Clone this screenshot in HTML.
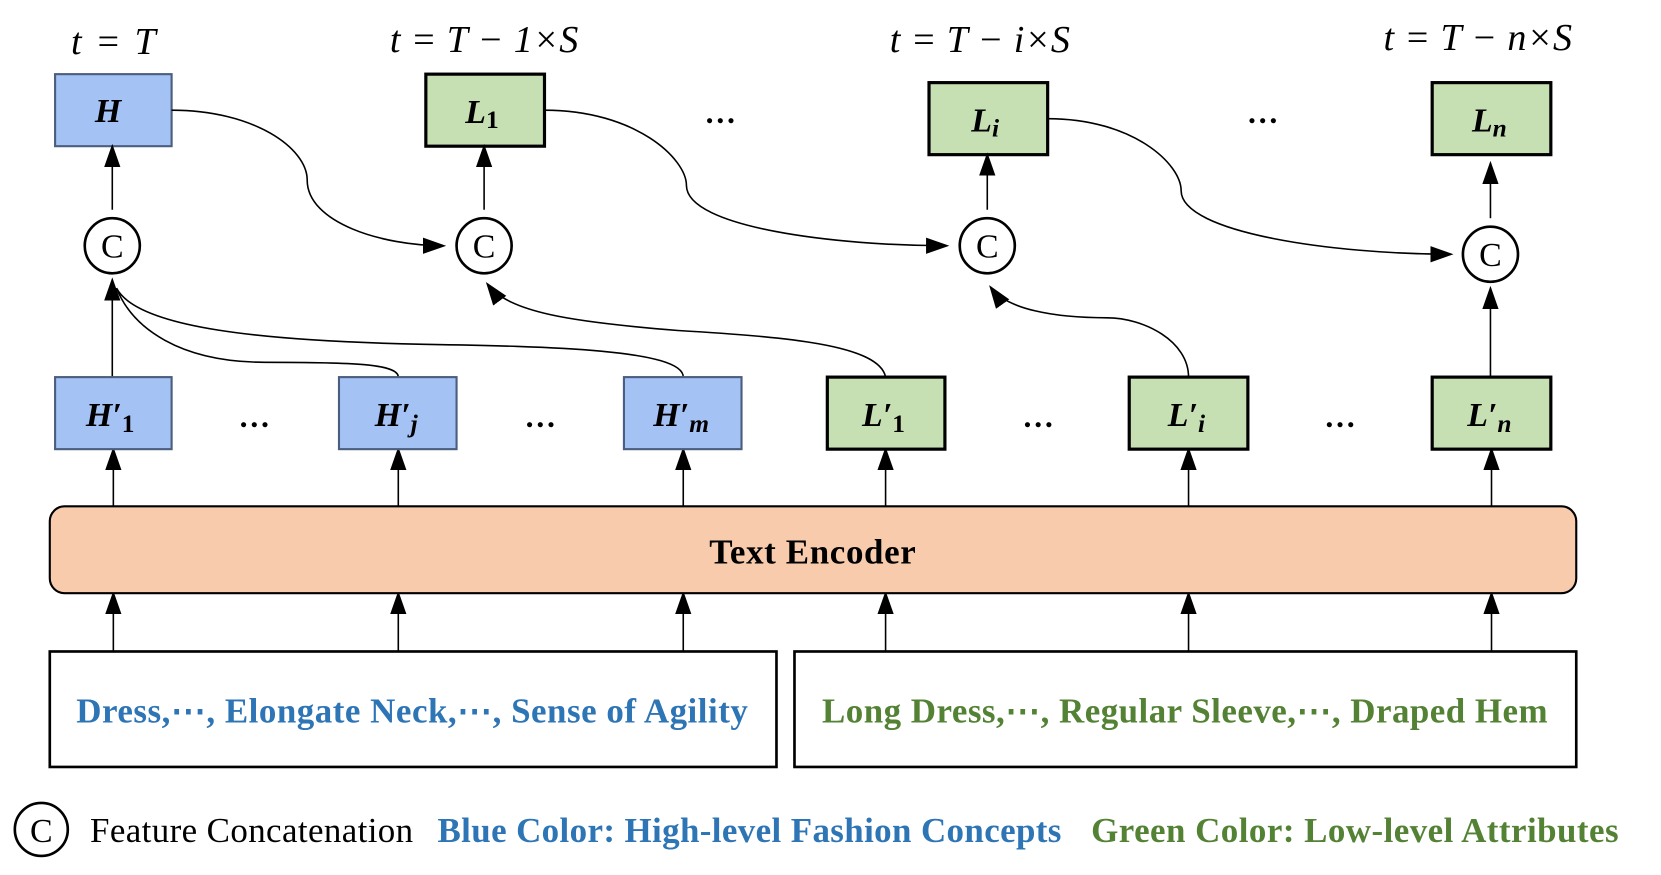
<!DOCTYPE html>
<html><head><meta charset="utf-8"><style>
html,body{margin:0;padding:0;background:#fff;}
svg{display:block;}
text{font-family:"Liberation Serif",serif;}
</style></head><body>
<svg width="1661" height="875" viewBox="0 0 1568 826" preserveAspectRatio="none" xmlns="http://www.w3.org/2000/svg">
<defs>
<marker id="b" viewBox="0 0 10 10" refX="9" refY="5" markerWidth="22" markerHeight="22" markerUnits="userSpaceOnUse" orient="auto"><path d="M0,1.5 L10,5 L0,8.5z" fill="#000"/></marker>
</defs>
<g font-style="italic" font-size="36" text-anchor="middle">
<text x="107" y="51" textLength="80">t = T</text>
<text x="457" y="49" textLength="178">t = T − 1×S</text>
<text x="925" y="49" textLength="170">t = T − i×S</text>
<text x="1395" y="47" textLength="178">t = T − n×S</text>
</g>
<rect x="52" y="70" width="110" height="68" fill="#a4c2f4" stroke="#4b5e80" stroke-width="2"/>
<rect x="402" y="70" width="112" height="68" fill="#c6e0b4" stroke="#000" stroke-width="3"/>
<rect x="877" y="78" width="112" height="68" fill="#c6e0b4" stroke="#000" stroke-width="3"/>
<rect x="1352" y="78" width="112" height="68" fill="#c6e0b4" stroke="#000" stroke-width="3"/>
<g font-style="italic" font-weight="bold" font-size="32" text-anchor="middle">
<text x="102" y="115">H</text>
<text x="455" y="116">L<tspan font-size="24" dy="5" font-style="normal">1</tspan></text>
<text x="930" y="124">L<tspan font-size="24" dy="5">i</tspan></text>
<text x="1406" y="124">L<tspan font-size="24" dy="5">n</tspan></text>
</g>
<g font-size="30" font-weight="bold" text-anchor="middle">
<text x="680" y="116">…</text><text x="1192" y="116">…</text>
<text x="240" y="403">…</text><text x="510" y="403">…</text>
<text x="980" y="403">…</text><text x="1265" y="403">…</text>
</g>
<g fill="#fff" stroke="#000" stroke-width="2.5">
<circle cx="106" cy="232" r="26"/><circle cx="457" cy="232" r="26"/>
<circle cx="932" cy="232" r="26"/><circle cx="1407" cy="240" r="26"/>
</g>
<g font-size="32" text-anchor="middle">
<text x="106" y="243">C</text><text x="457" y="243">C</text>
<text x="932" y="243">C</text><text x="1407" y="251">C</text>
</g>
<g stroke="#000" stroke-width="1.5" fill="none" marker-end="url(#b)">
<path d="M106,198 V138"/><path d="M457,198 V138"/><path d="M932,198 V146"/><path d="M1407,206 V154"/>
<path d="M106,356 V264"/><path d="M1407,356 V272"/>
<path d="M107,478 V424"/><path d="M376,478 V424"/><path d="M645,478 V424"/><path d="M836,478 V424"/><path d="M1122,478 V424"/><path d="M1408,478 V424"/>
<path d="M107,615 V560"/><path d="M376,615 V560"/><path d="M645,615 V560"/><path d="M836,615 V560"/><path d="M1122,615 V560"/><path d="M1408,615 V560"/>
<path d="M162,104 C240,104 290,140 290,170 C290,210 360,232 419,232"/>
<path d="M514,104 C600,104 648,150 648,175 C648,215 790,232 894,232"/>
<path d="M989,112 C1070,112 1115,155 1115,180 C1115,220 1260,240 1370,240"/>
<path d="M836,356 C830,325 740,318 640,312 C540,304 480,295 460,268"/>
<path d="M1122,356 C1122,322 1080,300 1045,300 C995,300 950,292 935,271"/>
</g>
<g stroke="#000" stroke-width="1.5" fill="none">
<path d="M376,356 C376,343 330,342 250,342 C170,342 125,310 110,272"/>
<path d="M645,356 C645,330 520,327 400,325 C250,322 130,310 110,272"/>
</g>
<rect x="52" y="356" width="110" height="68" fill="#a4c2f4" stroke="#4b5e80" stroke-width="2"/>
<rect x="320" y="356" width="111" height="68" fill="#a4c2f4" stroke="#4b5e80" stroke-width="2"/>
<rect x="589" y="356" width="111" height="68" fill="#a4c2f4" stroke="#4b5e80" stroke-width="2"/>
<rect x="781" y="356" width="111" height="68" fill="#c6e0b4" stroke="#000" stroke-width="3"/>
<rect x="1066" y="356" width="112" height="68" fill="#c6e0b4" stroke="#000" stroke-width="3"/>
<rect x="1352" y="356" width="112" height="68" fill="#c6e0b4" stroke="#000" stroke-width="3"/>
<g font-style="italic" font-weight="bold" font-size="32" text-anchor="middle">
<text x="104" y="402">H′<tspan font-size="24" dy="6" font-style="normal">1</tspan></text>
<text x="374" y="402">H′<tspan font-size="24" dy="6">j</tspan></text>
<text x="643" y="402">H′<tspan font-size="24" dy="6">m</tspan></text>
<text x="834" y="402">L′<tspan font-size="24" dy="6" font-style="normal">1</tspan></text>
<text x="1120" y="402">L′<tspan font-size="24" dy="6">i</tspan></text>
<text x="1406" y="402">L′<tspan font-size="24" dy="6">n</tspan></text>
</g>
<rect x="47" y="478" width="1441" height="82" rx="14" fill="#f7cbac" stroke="#000" stroke-width="2"/>
<text x="767" y="532" font-size="33" font-weight="bold" text-anchor="middle" textLength="195">Text Encoder</text>
<rect x="47" y="615" width="686" height="109" fill="#fff" stroke="#000" stroke-width="2.5"/>
<rect x="750" y="615" width="738" height="109" fill="#fff" stroke="#000" stroke-width="2.5"/>
<text x="72" y="682" font-size="33" font-weight="bold" fill="#2e75b6" textLength="634">Dress,⋯, Elongate Neck,⋯, Sense of Agility</text>
<text x="776" y="682" font-size="33" font-weight="bold" fill="#548235" textLength="685">Long Dress,⋯, Regular Sleeve,⋯, Draped Hem</text>
<circle cx="39" cy="783" r="25" fill="#fff" stroke="#000" stroke-width="2.5"/>
<text x="39" y="795" font-size="32" text-anchor="middle">C</text>
<text x="85" y="795" font-size="33" textLength="305">Feature Concatenation</text>
<text x="413" y="795" font-size="33" font-weight="bold" fill="#2e75b6" textLength="589">Blue Color: High-level Fashion Concepts</text>
<text x="1030" y="795" font-size="33" font-weight="bold" fill="#548235" textLength="498">Green Color: Low-level Attributes</text>
</svg>
</body></html>
